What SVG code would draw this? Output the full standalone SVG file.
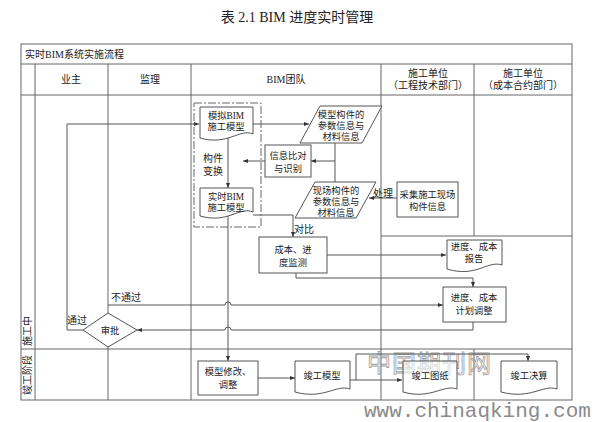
<svg xmlns="http://www.w3.org/2000/svg" width="595" height="422" viewBox="0 0 595 422">
<defs>
<style>
text{font-family:"Liberation Serif","Noto Sans CJK SC",serif;font-size:10px;fill:#222;text-anchor:middle}
.n text{font-size:9.3px}
.tl{text-anchor:start}
.grid{stroke:#666;stroke-width:1;fill:none}
.box{stroke:#555;stroke-width:1;fill:#fff}
.c{stroke:#555;stroke-width:1;fill:none}
.wm{font-family:"Liberation Mono",monospace;fill:#8a8a8a;text-anchor:start}
</style>
<marker id="ah" viewBox="0 0 10 10" refX="10" refY="5" markerWidth="5" markerHeight="5" orient="auto"><path d="M0,1 L10,5 L0,9 Z" fill="#333"/></marker>
</defs>
<rect width="595" height="422" fill="#fff"/>
<text x="297" y="22" style="font-size:14px">表 2.1 BIM 进度实时管理</text>

<g id="table">
<rect class="grid" x="21" y="44" width="551" height="356"/>
<path class="grid" d="M21,64H572M21,95H572M21,349H572M381,236H572M35,64V400M108,64V400M191,64V400M381,64V400M474,64V236M474,349V400"/>
<text class="tl" x="25" y="58">实时BIM系统实施流程</text>
<text x="71" y="83">业主</text>
<text x="150" y="83">监理</text>
<text x="286" y="83">BIM团队</text>
<text x="428" y="77">施工单位</text>
<text x="428" y="89">（工程技术部门）</text>
<text x="523" y="77">施工单位</text>
<text x="523" y="89">（成本合约部门）</text>
<text transform="translate(31,331) rotate(-90)">施工中</text>
<text transform="translate(31,375) rotate(-90)">竣工阶段</text>
</g>

<g id="watermark">
<text x="367" y="372" style="font-size:24px;fill:none;stroke:#a0a0a0;stroke-width:0.8;text-anchor:start;letter-spacing:1px">中国期刊网</text>
<text class="wm" x="364" y="417" style="font-size:21px">www.chinaqking.com</text>
</g>

<g id="connectors">
<path class="c" d="M83,330H67V124H199" marker-end="url(#ah)"/>
<path class="c" d="M253,124H309" marker-end="url(#ah)"/>
<path class="c" d="M335,143V182"/>
<path class="c" d="M335,161H311" marker-end="url(#ah)"/>
<path class="c" d="M265,161H243" marker-end="url(#ah)"/>
<path class="c" d="M228,137V188" marker-end="url(#ah)"/>
<path class="c" d="M397,198H369" marker-end="url(#ah)"/>
<path class="c" d="M253,215H293V237" marker-end="url(#ah)"/>
<path class="c" d="M327,255H446" marker-end="url(#ah)"/>
<path class="c" d="M296,273V278H473V287" marker-end="url(#ah)"/>
<path class="c" d="M473,322V330H231A3,3 0 0 0 225,330H137" marker-end="url(#ah)"/>
<path class="c" d="M108,305H225A3,3 0 0 1 231,305H443" marker-end="url(#ah)"/>
<path class="c" d="M228,215V361" marker-end="url(#ah)"/>
<path class="c" d="M258,378H295" marker-end="url(#ah)"/>
<path class="c" d="M350,380H402" marker-end="url(#ah)"/>
<path class="c" d="M356,380V354H528V361" marker-end="url(#ah)"/>
<text x="213" y="162">构件</text>
<text x="213" y="175">变换</text>
<text x="383" y="197">处理</text>
<text x="304" y="233">对比</text>
<text x="126" y="301">不通过</text>
<text x="77" y="324">通过</text>
</g>

<g id="bim-frame">
<rect x="194" y="103" width="67" height="124" fill="none" stroke="#666" stroke-width="1" stroke-dasharray="8 2 2 2"/>
</g>

<g class="n">
<g id="n-sim-model">
<path class="box" d="M200,107H253V134C240,128 228,146 200,138Z"/>
<text x="226" y="119">模拟BIM</text>
<text x="226" y="130">施工模型</text>
</g>
<g id="n-real-model">
<path class="box" d="M200,188H253V212C240,206 228,224 200,216Z"/>
<text x="226" y="200">实时BIM</text>
<text x="226" y="211">施工模型</text>
</g>
<g id="n-model-info">
<path class="box" d="M320,106H382L362,143H300Z"/>
<text x="341" y="118">模型构件的</text>
<text x="341" y="129">参数信息与</text>
<text x="341" y="140">材料信息</text>
</g>
<g id="n-compare">
<rect class="box" x="265" y="145" width="46" height="32"/>
<text x="288" y="159">信息比对</text>
<text x="288" y="172">与识别</text>
</g>
<g id="n-site-info">
<path class="box" d="M315,182H376L356,218H295Z"/>
<text x="336" y="194">现场构件的</text>
<text x="336" y="205">参数信息与</text>
<text x="336" y="216">材料信息</text>
</g>
<g id="n-collect">
<rect class="box" x="397" y="182" width="61" height="35"/>
<text x="427.5" y="198">采集施工现场</text>
<text x="427.5" y="210">构件信息</text>
</g>
<g id="n-monitor">
<rect class="box" x="259" y="237" width="68" height="36"/>
<text x="293" y="253">成本、进</text>
<text x="293" y="266">度监测</text>
</g>
<g id="n-report">
<path class="box" d="M447,240H502V265C488,260 476,278 447,269Z"/>
<text x="474" y="250">进度、成本</text>
<text x="474" y="262">报告</text>
</g>
<g id="n-adjust">
<rect class="box" x="443" y="287" width="63" height="35"/>
<text x="474" y="301">进度、成本</text>
<text x="474" y="314">计划调整</text>
</g>
<g id="n-approve">
<path class="box" d="M108,313L137,330L108,347L83,330Z"/>
<text x="110" y="334">审批</text>
</g>
<g id="n-modify">
<rect class="box" x="198" y="361" width="60" height="34"/>
<text x="228" y="375">模型修改、</text>
<text x="228" y="388">调整</text>
</g>
<g id="n-final-model">
<path class="box" d="M295,361H350V389C336,384 324,400 295,392Z"/>
<text x="322" y="379">竣工模型</text>
</g>
<g id="n-final-drawing">
<path class="box" d="M403,361H457V389C443,384 431,400 403,392Z" fill-opacity="0.6"/>
<text x="430" y="379">竣工图纸</text>
</g>
<g id="n-final-account">
<path class="box" d="M501,361H557V389C543,384 531,400 501,392Z"/>
<text x="529" y="379">竣工决算</text>
</g>
</g>
</svg>
